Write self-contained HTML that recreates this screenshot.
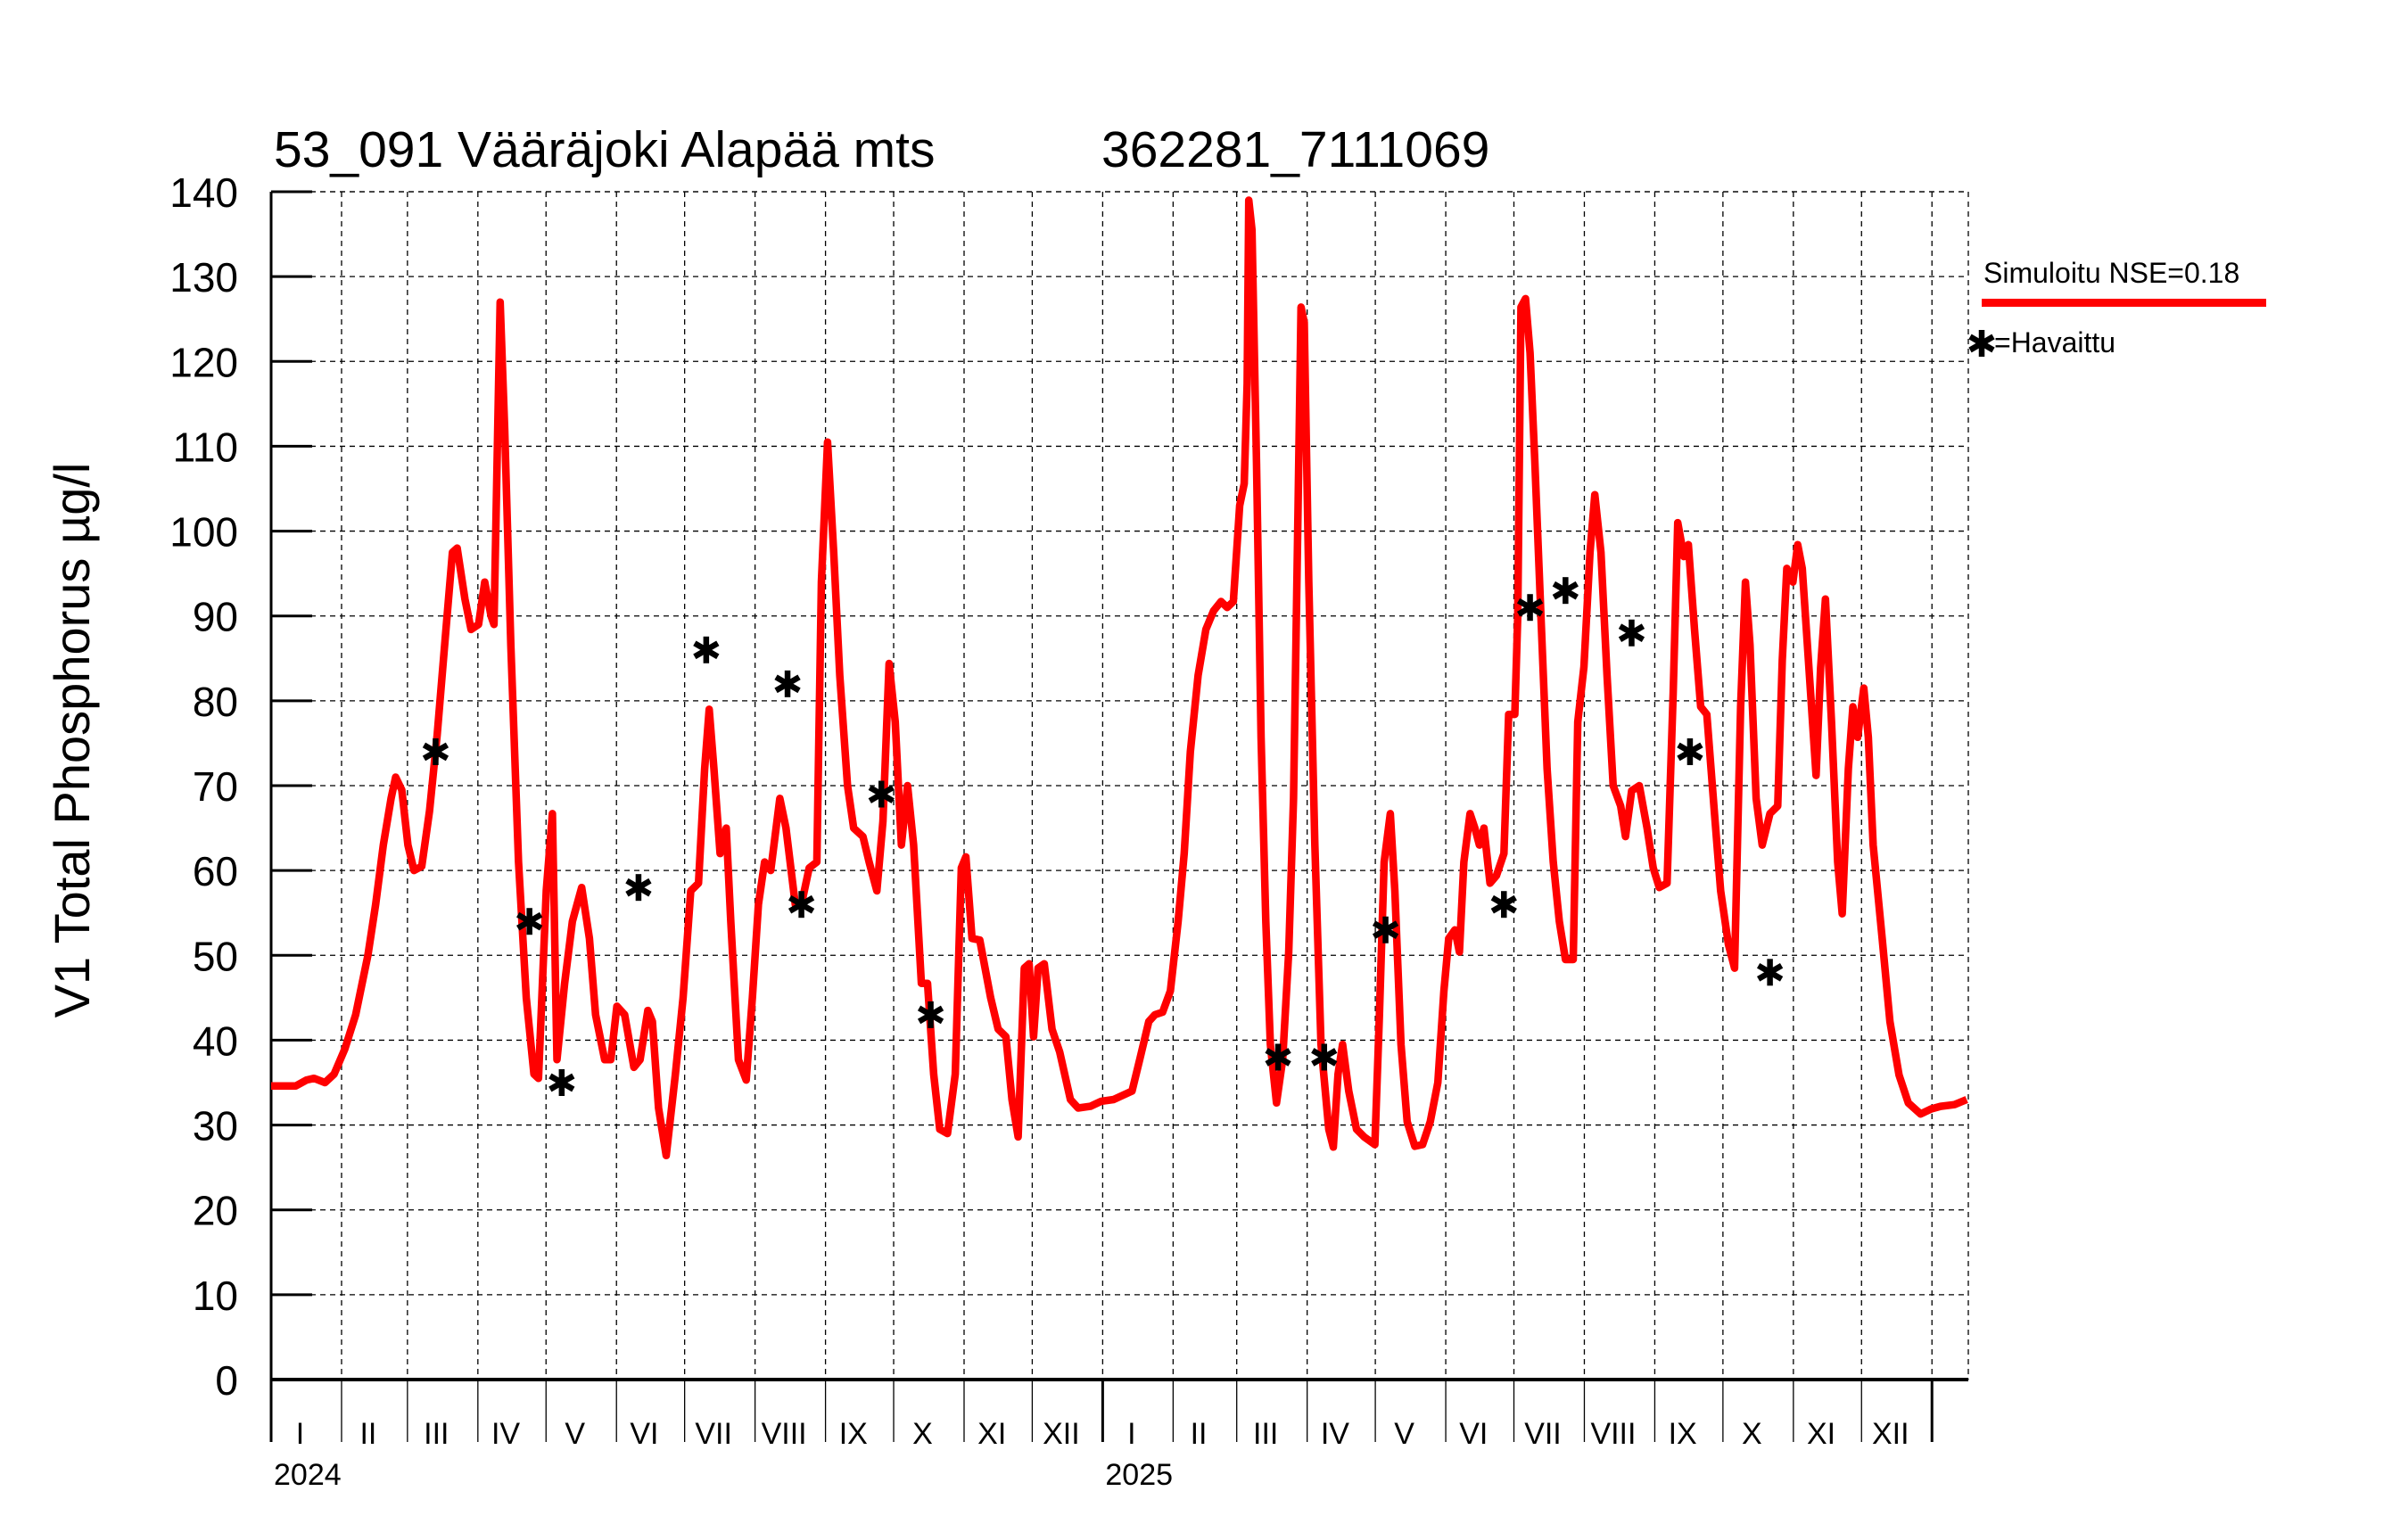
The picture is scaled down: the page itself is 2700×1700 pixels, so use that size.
<!DOCTYPE html>
<html><head><meta charset="utf-8"><style>
html,body{margin:0;padding:0;background:#fff;}
svg{display:block;font-family:"Liberation Sans",sans-serif;}
</style></head><body>
<svg id="chart" width="2700" height="1700" viewBox="0 0 2700 1700" xmlns="http://www.w3.org/2000/svg">
<text x="307" y="187" font-size="57">53_091 Vääräjoki Alapää mts</text>
<text x="1235" y="187" font-size="57">362281_7111069</text>
<text transform="translate(100,830) rotate(-90)" text-anchor="middle" font-size="56">V1 Total Phosphorus µg/l</text>
<g id="grid"></g>
<g id="axes"></g>
<g id="series"></g>
<g id="legend">
<text x="2224" y="317" font-size="32">Simuloitu NSE=0.18</text>
<rect x="2222" y="335" width="319" height="9" fill="#ff0000"/>
<text x="2236" y="395" font-size="32">=Havaittu</text>
</g>
</svg>
<script>
const simDays=[0,10.8,15.6,18.9,23.7,27.7,32.5,37.2,42.6,46,49.4,52.8,54.8,57.5,60.2,62.9,66.3,69.7,73.1,76.5,79.8,81.9,85.3,88,91.3,94,96.8,98.1,100.8,102.8,105.5,108.9,112.3,115.7,117.7,121.1,123.8,125.8,129.2,132.6,136.7,140.1,142.8,146.8,149.5,152.2,155.6,159.7,162.4,165.8,167.8,170.5,173.9,177.9,181.3,184.7,188.1,190.8,192.8,194.9,197.6,200.3,202.3,205.7,209.1,211.8,214.5,217.2,219.9,223.9,226.6,230.7,233.4,236.8,240.2,242.2,244.9,247.6,250.3,253.7,256.4,260.5,263.2,266.6,269.3,272,274.7,277.4,280.1,282.8,286.2,288.9,291.6,294.3,297.7,301.1,303.8,305.8,308.5,311.9,316.7,320,323.4,326.1,328.8,331.5,333.6,335.6,337.6,340.3,343.7,347.1,351.8,355.2,360.6,365.4,370.8,378.9,382.3,386.3,389,392.4,395.8,399.2,401.9,404.6,408,411.4,414.8,418.1,420.8,423.5,426.3,428.3,429.6,430.3,431.7,433.7,435.7,437.8,439.8,442.5,445.2,447.9,450,452,453.3,454.7,456.7,459.4,462.1,465.5,467.5,469.6,471.6,474.3,477.7,481.1,485.8,487.8,489.9,492.6,494.6,497.3,500,503.4,506.8,510.2,513.5,516.2,518.3,521,523,525,527.7,529.8,531.8,533.8,536.5,539.3,542.6,544.7,547.4,548.7,550.1,552.1,554.1,556.2,558.9,561.6,564.3,567,569.7,573.1,575.1,577.8,580.5,582.6,585.3,588,590.7,594,596.1,598.8,602.2,605.6,608.3,611,614.4,617.1,619.1,621.8,623.8,626.5,629.2,631.9,635.3,638,641.4,644.1,646.8,648.9,650.9,653.6,656.3,659.7,663.1,665.1,667.1,669.8,671.9,673.9,676.6,680,682,684.1,686.8,689.5,691.5,694.2,696.2,698.3,701,703,705.1,709.1,712.5,716.5,720.6,726,730.7,734.8,740.9,746.3];
const simValues=[34.6,34.6,35.3,35.5,35,36,39,43,50,56,63,68.5,71,69.5,63,60,60.5,67,76,87,97.5,98,92,88.4,89,94,90,89,127,112,86.5,61,45,36,35.5,57.6,66.7,37.7,46.7,54,58,52,43,37.7,37.7,44,43,36.8,37.7,43.5,42.2,32,26.4,35.9,45,57.6,58.5,72,79,72,62,65,54,37.7,35.3,45,56,61,60,68.5,65,56,56,60.3,61,94,110.5,97.5,83,70,65,64,61,57.6,65.8,84.4,77.5,63,70,63,46.7,46.7,36,29.5,29,36,60.3,61.6,52,51.8,45,41.3,40.4,33,28.6,48.5,49,40.4,48.5,49,41.3,38.6,33,32,32.2,32.8,33,34,37.7,42.2,43,43.3,45.8,54,62,74,83,88.4,90.6,91.7,91,91.7,103,105.6,117.4,139,135.5,108,75.7,54,39.5,32.6,37.7,50.4,68.5,103,126.4,124.6,94,63,39.5,29.5,27.4,36,39.5,34,29.5,28.6,27.7,43,61,66.7,57.6,39.5,30.4,27.5,27.7,30.4,35,45.8,52,53,50.4,61,66.7,65,63,65,58.5,59.4,62,78.4,78.4,90,126.4,127.4,121,108.3,90,72,61,54,49.5,49.5,77.5,84,97.5,104.3,97.5,83,70,67.6,64,69.4,70,65,60.3,58,58.5,81,101,97,98.4,88.4,79.3,78.4,66.7,57.6,51.3,48.5,79.3,94,86.6,68.5,63,66.7,67.6,84.8,95.6,94,98.4,95.6,84.8,71.2,83.9,92,77.5,61,54.9,72,79.3,75.7,81.5,75.7,63,52,42.2,35.9,32.6,31.3,31.9,32.2,32.4,33];
const obsDays=[72.4,113.7,127.9,161.7,191.5,227.3,233.4,268.6,290.3,443.2,463.5,490.5,542.6,554.1,569.7,598.8,624.5,659.7];
const obsValues=[74,54,35,58,86,82,56,69,43,38,38,53,56,91,93,88,74,48];
const yTicks=[0,10,20,30,40,50,60,70,80,90,100,110,120,130,140];
const monthLabels=["I","II","III","IV","V","VI","VII","VIII","IX","X","XI","XII"];
const yearLabels=["2024","2025"];

const NS="http://www.w3.org/2000/svg";
const X0=304,X1=2207,Y0=1547,YT=215,DMAX=747,VMAX=140;
const xs=d=>X0+d*(X1-X0)/DMAX;
const ys=v=>Y0-v*(Y0-YT)/VMAX;
function mk(tag,attrs,parent){const e=document.createElementNS(NS,tag);for(const k in attrs)e.setAttribute(k,attrs[k]);parent.appendChild(e);return e;}
const grid=document.getElementById('grid'),axes=document.getElementById('axes'),series=document.getElementById('series');

const bounds=[];
const yearsNum=[2024,2025];
yearsNum.forEach((y,yi)=>{for(let m=0;m<12;m++){const d=(Date.UTC(y,m,1)-Date.UTC(2024,0,1))/864e5;bounds.push({d,m,yi});}});
const endD=(Date.UTC(2026,0,1)-Date.UTC(2024,0,1))/864e5;

yTicks.forEach(v=>{
  const y=ys(v);
  if(v>0){const g=mk('line',{x1:X0,x2:X1,y1:y,y2:y,stroke:'#000','stroke-width':1.3,'stroke-dasharray':'6,5'},grid);
  
  }
  const t=mk('line',{x1:X0,x2:X0+46,y1:y,y2:y,stroke:'#000','stroke-width':3},axes);
  
  
  const l=mk('text',{x:267,y:y+17,'text-anchor':'end','font-size':46},axes);
  l.textContent=v;
  
  
});
bounds.concat([{d:endD,m:-1,yi:2}]).forEach(b=>{
  const x=xs(b.d);
  if(b.d>0){const g=mk('line',{x1:x,x2:x,y1:YT,y2:Y0,stroke:'#000','stroke-width':1.3,'stroke-dasharray':'6,5'},grid);
  
  }
  const yearB=(b.m===0||b.m===-1);
  const t=mk('line',{x1:x,x2:x,y1:Y0,y2:1617,stroke:'#000','stroke-width':yearB?3:1.3},axes);
  
  
});
bounds.forEach((b,i)=>{
  const nd=i+1<bounds.length?bounds[i+1].d:endD;
  const l=mk('text',{x:xs((b.d+nd)/2)-7,y:1619,'text-anchor':'middle','font-size':34},axes);
  l.textContent=monthLabels[b.m];
  
  
  if(b.m===0){const yl=mk('text',{x:xs(b.d)+3,y:1665,'font-size':34},axes);
  yl.textContent=yearLabels[b.yi];
  
  }
});
const rb=mk('line',{x1:X1,x2:X1,y1:YT,y2:Y0,stroke:'#000','stroke-width':1.3,'stroke-dasharray':'6,5'},grid);


const tb=mk('line',{x1:X0,x2:X1,y1:YT,y2:YT,stroke:'#000','stroke-width':1.3,'stroke-dasharray':'6,5'},grid);


const ya=mk('line',{x1:X0,x2:X0,y1:YT,y2:1617,stroke:'#000','stroke-width':3},axes);


const xa=mk('line',{x1:X0,x2:X1,y1:Y0,y2:Y0,stroke:'#000','stroke-width':4},axes);



const pts=simDays.map((d,i)=>xs(d).toFixed(1)+','+ys(simValues[i]).toFixed(1)).join(' ');
const pl=mk('polyline',{points:pts,fill:'none',stroke:'#ff0000','stroke-width':8.5,'stroke-linejoin':'round'},series);



function star(cx,cy,parent){
  const g=mk('g',{transform:`translate(${cx},${cy})`,stroke:'#000','stroke-width':6.5},parent);
  [0,60,120].forEach(a=>mk('line',{x1:0,y1:-15,x2:0,y2:15,transform:`rotate(${a})`},g));
  return g;
}
obsDays.forEach((d,i)=>{
  const g=star(xs(d),ys(obsValues[i]),series);
  
  
});
const ls=star(2222,385,document.getElementById('legend'));


</script>
</body></html>
